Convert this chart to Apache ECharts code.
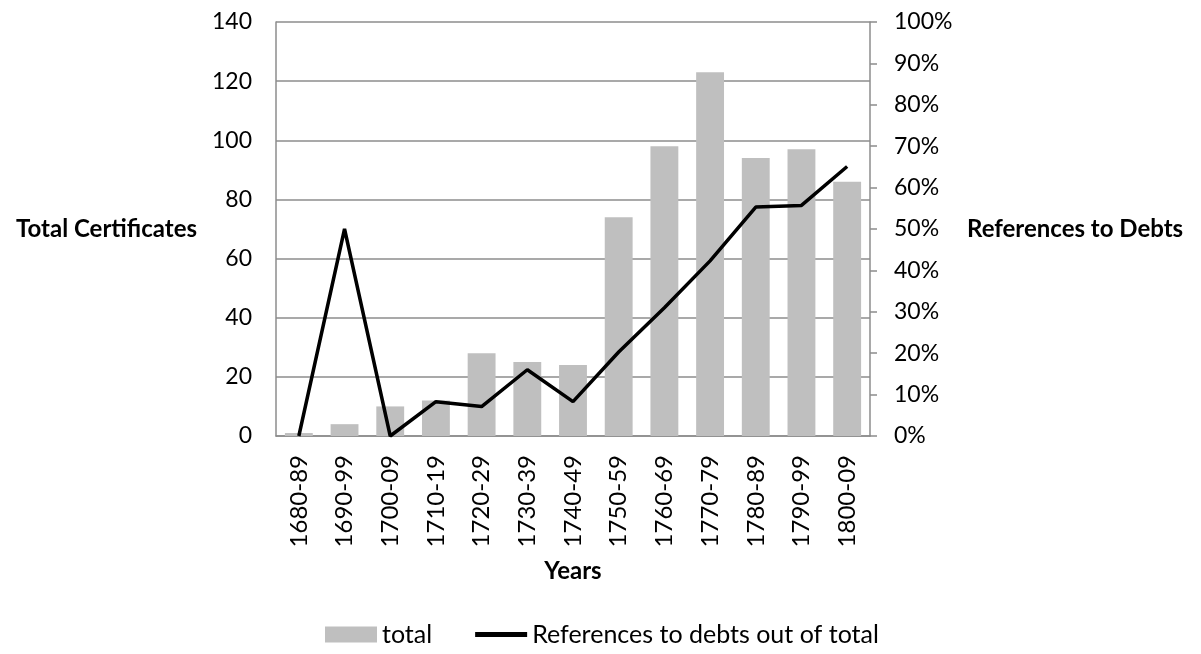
<!DOCTYPE html>
<html>
<head>
<meta charset="utf-8">
<script src="https://cdn.jsdelivr.net/npm/echarts@6/dist/echarts.min.js"></script>
<style>
  html, body { margin: 0; padding: 0; background: #fff; }
  #chart { width: 1201px; height: 654px; }
</style>
</head>
<body>
<div id="chart"></div>
<script>
const decades = ['1680-89', '1690-99', '1700-09', '1710-19', '1720-29', '1730-39', '1740-49',
  '1750-59', '1760-69', '1770-79', '1780-89', '1790-99', '1800-09']
const totals = [1, 4, 10, 12, 28, 25, 24, 74, 98, 123, 94, 97, 86]
// share of certificates referring to debts, in percent
const debtShare = [0, 50, 0, 8.3, 7.1, 16, 8.3, 20.3, 31, 42.3, 55.3, 55.7, 65.1]

const font = 'Lato, "Open Sans", sans-serif'
const axisColor = '#8c8c8c'

const chart = echarts.init(document.getElementById('chart'))

chart.setOption({
  animation: false,
  textStyle: { fontFamily: font },
  grid: { left: 276, right: 331, top: 22, bottom: 218 },
  legend: {
    bottom: 2,
    left: 320,
    itemGap: 43,
    itemWidth: 52,
    itemHeight: 16,
    textStyle: { fontSize: 25, color: '#000', fontFamily: font },
    data: [
      { name: 'total', icon: 'rect' },
      { name: 'References to debts out of total', icon: 'path://M0,0 L10,0 L10,1 L0,1 Z' }
    ]
  },
  xAxis: {
    type: 'category',
    data: decades,
    name: 'Years',
    nameLocation: 'middle',
    nameGap: 123,
    nameTextStyle: { fontSize: 24, fontWeight: 'bold', color: '#000' },
    axisLine: { lineStyle: { color: axisColor, width: 1.5 } },
    axisTick: { show: false },
    axisLabel: { rotate: 90, fontSize: 24, color: '#000', margin: 19, interval: 0 }
  },
  yAxis: [
    {
      type: 'value',
      min: 0,
      max: 140,
      interval: 20,
      name: 'Total Certificates',
      nameLocation: 'middle',
      nameRotate: 0,
      nameGap: 79,
      nameTextStyle: { fontSize: 24, fontWeight: 'bold', color: '#000' },
      axisLine: { show: true, lineStyle: { color: axisColor, width: 1.5 } },
      axisTick: { show: false },
      axisLabel: { fontSize: 23, color: '#000', margin: 24 },
      splitLine: { lineStyle: { color: axisColor, width: 1.5 } }
    },
    {
      type: 'value',
      min: 0,
      max: 100,
      interval: 10,
      position: 'right',
      name: 'References to Debts',
      nameLocation: 'middle',
      nameRotate: 0,
      nameGap: 97,
      nameTextStyle: { fontSize: 24, fontWeight: 'bold', color: '#000' },
      axisLine: { show: true, lineStyle: { color: axisColor, width: 1.5 } },
      axisTick: { show: true, length: 7, lineStyle: { color: axisColor, width: 1.5 } },
      axisLabel: { fontSize: 23, color: '#000', margin: 24, formatter: '{value}%' },
      splitLine: { show: false }
    }
  ],
  series: [
    {
      name: 'total',
      type: 'bar',
      yAxisIndex: 0,
      barCategoryGap: '39%',
      itemStyle: { color: '#bfbfbf' },
      data: totals
    },
    {
      name: 'References to debts out of total',
      type: 'line',
      yAxisIndex: 1,
      symbol: 'none',
      lineStyle: { color: '#000', width: 3.5 },
      itemStyle: { color: '#000' },
      data: debtShare
    }
  ]
})
</script>
</body>
</html>
